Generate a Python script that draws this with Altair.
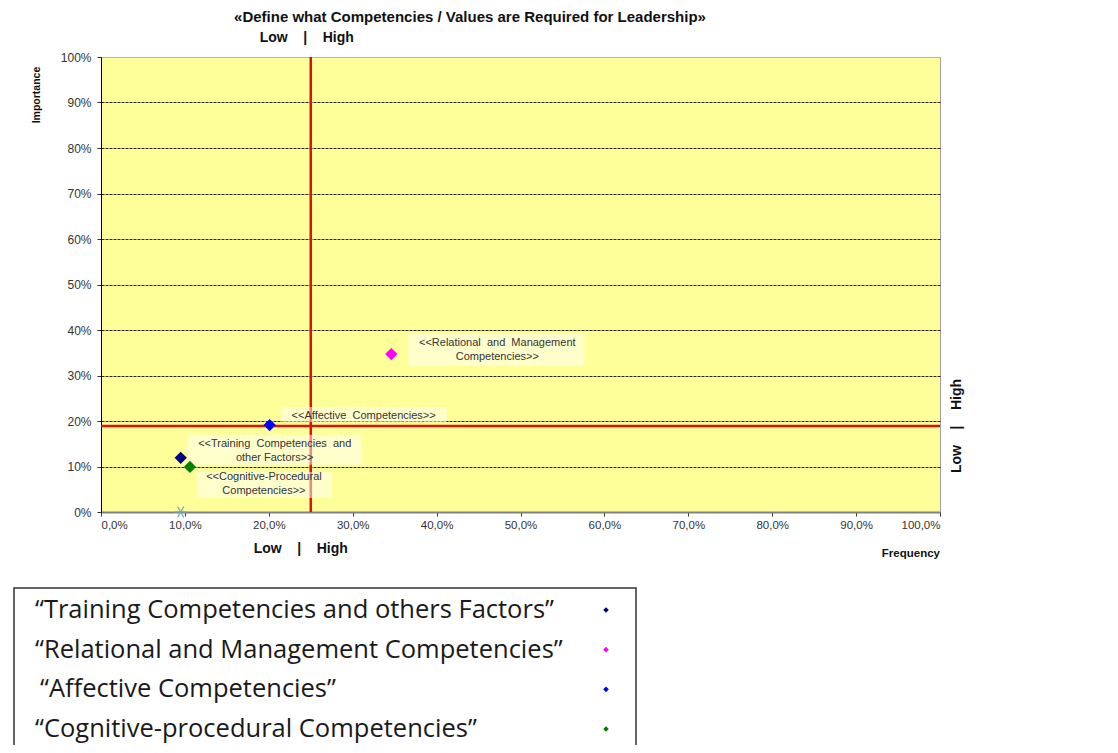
import altair as alt
import pandas as pd

# ---------------- data ----------------
names = [
    "Training Competencies and other Factors",
    "Relational and Management Competencies",
    "Affective Competencies",
    "Cognitive-Procedural Competencies",
]
frequency = [9.5, 34.6, 20.1, 10.6]      # %
importance = [11.9, 34.7, 19.1, 9.9]     # %
colors = ["#000080", "#FF00FF", "#0000FF", "#008000"]
point_labels = [
    "<<Training\u00a0 Competencies\u00a0 and\nother Factors>>",
    "<<Relational\u00a0 and\u00a0 Management\nCompetencies>>",
    "<<Affective\u00a0 Competencies>>",
    "<<Cognitive-Procedural\nCompetencies>>",
]
legend_labels = [
    "\u201cTraining Competencies and others Factors\u201d",
    "\u201cRelational and Management Competencies\u201d",
    "\u201cAffective Competencies\u201d",
    "\u201cCognitive-procedural Competencies\u201d",
]
legend_indent = [0, 0, 5, 0]
extra_frequency = [9.5]
extra_importance = [0.0]
freq_threshold = [25.0]
imp_threshold = [18.9]
axis_ticks = [0, 10, 20, 30, 40, 50, 60, 70, 80, 90, 100]

title_text = "\u00abDefine what Competencies / Values are Required for Leadership\u00bb"
low_high = "Low\u00a0\u00a0\u00a0\u00a0|\u00a0\u00a0\u00a0\u00a0High"

df = pd.DataFrame({"name": names, "freq": frequency, "imp": importance,
                   "color": colors, "label": point_labels})
extra_df = pd.DataFrame({"freq": extra_frequency, "imp": extra_importance})
thr_df = pd.DataFrame({"fx": freq_threshold, "iy": imp_threshold})
legend_df = pd.DataFrame({"label": legend_labels, "color": colors, "indent": legend_indent})

FONT = "Liberation Sans"

xscale = alt.Scale(domain=[0, 100], nice=False, zero=True)
yscale = alt.Scale(domain=[0, 100], nice=False, zero=True)

X = alt.X("freq:Q", scale=xscale, axis=alt.Axis(
    values=axis_ticks, grid=False, title=None,
    labelExpr="replace(format(datum.value, '.1f'), '.', ',') + '%'",
    labelFont=FONT, labelFontSize=11.5, labelColor="#333333",
    domainColor="#808080", domainWidth=2, tickColor="#333333", tickSize=4,
    labelPadding=3))
Y = alt.Y("imp:Q", scale=yscale, axis=alt.Axis(
    values=axis_ticks, grid=True, title=None,
    labelExpr="format(datum.value, 'd') + '%'",
    labelFont=FONT, labelFontSize=12, labelColor="#333333",
    domainColor="#000000", tickColor="#333333", tickSize=4, labelPadding=6,
    gridColor={"condition": {"test": "datum.value >= 100", "value": "#b8b8b8"}, "value": "#000000"},
    gridDash={"condition": {"test": "datum.value >= 100", "value": []}, "value": [3, 1]},
    gridOpacity=0.85, gridWidth=1))

base = alt.Chart(df)

# red threshold lines
vline = alt.Chart(thr_df).mark_rule(color="#E01010", strokeWidth=2.5).encode(
    x=alt.X("fx:Q", scale=xscale))
hline = alt.Chart(thr_df).mark_rule(color="#E01010", strokeWidth=2.5).encode(
    y=alt.Y("iy:Q", scale=yscale))

# label boxes + label texts (offsets per point)
styles = [
    # (box x0, x1, y0, y1, text dx, text dy)
    (7, 181, -23, 7, 94, -20),
    (17, 193, -20, 12, 106, -17),
    (12, 177, -18, -3, 94, -15),
    (7, 142, 5, 31, 74, 4),
]
boxes, texts = [], []
for nm, (bx0, bx1, by0, by1, tdx, tdy) in zip(names, styles):
    sub = base.transform_filter(alt.datum.name == nm)
    boxes.append(sub.mark_rect(fill="white", opacity=0.5, xOffset=bx0, x2Offset=bx1,
                               yOffset=by0, y2Offset=by1).encode(
        x=alt.X("freq:Q", scale=xscale), x2="freq:Q",
        y=alt.Y("imp:Q", scale=yscale), y2="imp:Q"))
    texts.append(sub.mark_text(font=FONT, fontSize=11, color="#333333", align="center",
                               baseline="top", lineBreak="\n", lineHeight=14,
                               dx=tdx, dy=tdy).encode(
        x=alt.X("freq:Q", scale=xscale), y=alt.Y("imp:Q", scale=yscale), text="label:N"))

grid_layer = base.mark_point(opacity=0).encode(x=X, y=Y)

points = base.mark_point(shape="diamond", filled=True, size=150, opacity=1).encode(
    x=alt.X("freq:Q", scale=xscale), y=alt.Y("imp:Q", scale=yscale),
    color=alt.Color("color:N", scale=None))

asterisk = alt.Chart(extra_df).mark_point(
    shape="M -1 0 L 1 0 M -0.5 -0.866 L 0.5 0.866 M -0.5 0.866 L 0.5 -0.866",
    filled=False, stroke="#6FA8B8", strokeWidth=1.2, size=160, opacity=1).encode(
    x=alt.X("freq:Q", scale=xscale), y=alt.Y("imp:Q", scale=yscale))

# annotations
thr_text = alt.Chart(thr_df)
top_lh = thr_text.mark_text(text=low_high, font=FONT, fontSize=14, fontWeight="bold",
                            color="#111111", baseline="middle", dx=-4).encode(
    x=alt.X("fx:Q", scale=xscale), y=alt.value(-19))
bot_lh = thr_text.mark_text(text=low_high, font=FONT, fontSize=14, fontWeight="bold",
                            color="#111111", baseline="middle", dx=-10).encode(
    x=alt.X("fx:Q", scale=xscale), y=alt.value(492))
right_lh = thr_text.mark_text(text=low_high, font=FONT, fontSize=14, fontWeight="bold",
                              color="#111111", baseline="middle", angle=270).encode(
    x=alt.value(856), y=alt.Y("iy:Q", scale=yscale))

title = alt.Chart(thr_df).mark_text(text=title_text, font=FONT, fontSize=15,
                                    fontWeight="bold", color="#111111",
                                    baseline="middle").encode(
    x=alt.value(369), y=alt.value(-40))
imp_title = alt.Chart(thr_df).mark_text(text="Importance", font=FONT, fontSize=10.5,
                                        fontWeight="bold", color="#111111",
                                        baseline="middle", angle=270).encode(
    x=alt.value(-64), y=alt.value(38))
freq_title = alt.Chart(thr_df).mark_text(text="Frequency", font=FONT, fontSize=11.5,
                                         fontWeight="bold", color="#111111",
                                         align="right", baseline="middle").encode(
    x=alt.value(839), y=alt.value(497))

main = alt.layer(grid_layer, vline, hline, *boxes, asterisk, points, *texts,
                 top_lh, bot_lh, right_lh, title, imp_title, freq_title)

# legend block below the chart
legend_box = alt.Chart(thr_df).mark_rect(fill=None, stroke="#333333", strokeWidth=1.5).encode(
    x=alt.value(-87), x2=alt.value(535), y=alt.value(531), y2=alt.value(720))
LY = alt.Y("label:N", scale=alt.Scale(type="point", domain=legend_labels,
                                      range=[553, 672], padding=0), axis=None)
LX = alt.X("indent:Q", scale=alt.Scale(domain=[0, 100], range=[-66, 34]), axis=None)
legend_text = alt.Chart(legend_df).mark_text(
    font="Open Sans", fontSize=25.5, color="#1a1a1a", align="left", baseline="middle").encode(
    x=LX, y=LY, text="label:N")
legend_pts = alt.Chart(legend_df).mark_point(shape="diamond", filled=True, size=32,
                                             opacity=1, dy=2).encode(
    x=alt.value(505), y=LY, color=alt.Color("color:N", scale=None))
legend = alt.layer(legend_box, legend_text, legend_pts)

chart = alt.layer(main, legend).resolve_scale(y="independent", x="independent").properties(
    width=839, height=455,
    autosize=alt.AutoSizeParams(type="none"),
    padding={"left": 93, "top": 49, "right": 170, "bottom": 233},
).configure_view(fill="#FFFF99", stroke="#a0a0a0", strokeWidth=1)

chart.save("out.html", embed_options={"renderer": "svg", "actions": False})
